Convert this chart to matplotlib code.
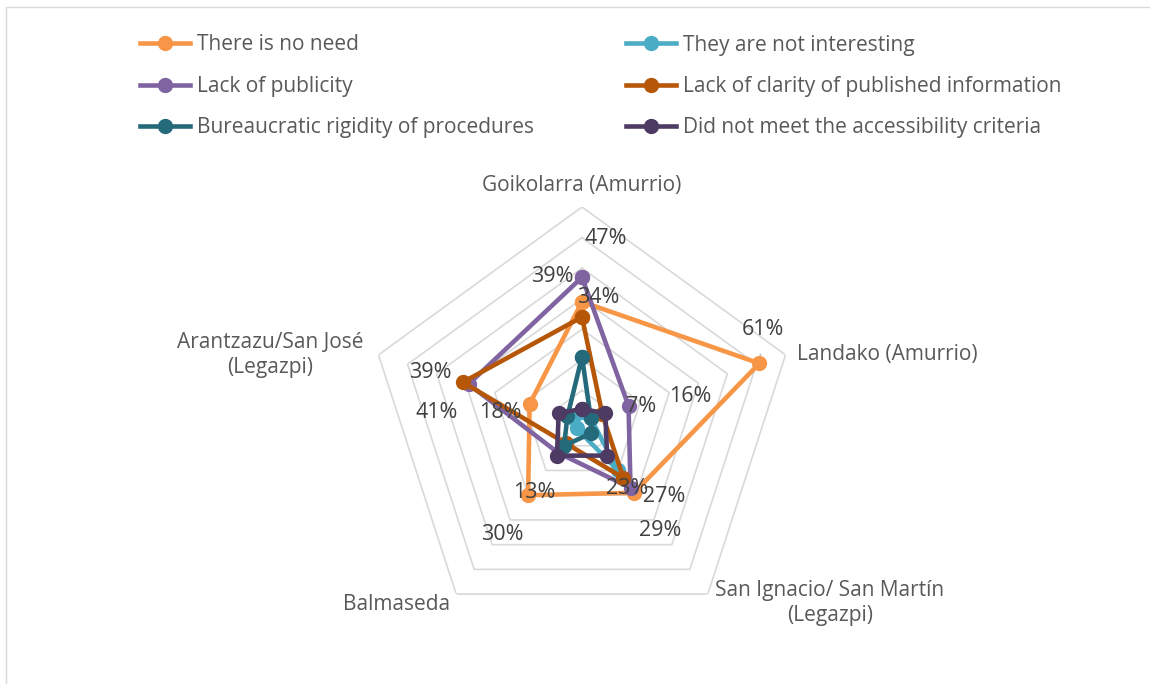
import numpy as np
import matplotlib
matplotlib.use('Agg')
import matplotlib.pyplot as plt
from matplotlib.lines import Line2D
from matplotlib.patches import Rectangle

plt.rcParams['font.family'] = ['Open Sans', 'DejaVu Sans']

# data
categories = ['Goikolarra (Amurrio)', 'Landako (Amurrio)', 'San Ignacio/ San Martín\n(Legazpi)',
              'Balmaseda', 'Arantzazu/San José\n(Legazpi)']
series_names = ['There is no need', 'They are not interesting', 'Lack of publicity',
                'Lack of clarity of published information', 'Bureaucratic rigidity of procedures',
                'Did not meet the accessibility criteria']
no_need = [39, 61, 29, 30, 18]
not_interesting = [3, 3, 20, 3, 3]
publicity = [47, 16, 27, 13, 39]
clarity = [34, 7, 23, 9, 41]
bureaucratic = [21, 3, 5, 10, 5]
accessibility = [4, 8, 14, 14, 8]
rings = [10, 20, 30, 40, 50, 60, 70]

colors = ['#F79646', '#4BACC6', '#8064A2', '#B65708', '#256A7B', '#4E3B63']
all_series = [no_need, not_interesting, publicity, clarity, bureaucratic, accessibility]

W, H = 1150, 684
fig = plt.figure(figsize=(W / 100, H / 100), dpi=100)

def px(x, y):
    return x / W, 1 - y / H

def tpx(x, y):
    # text positions, nudged for the font's vertical centring
    return px(x, y + 2)

# polar axes: centre (582, 421), radius 214 px
cx, cy, R = 582, 421, 214
ax = fig.add_axes([(cx - R) / W, (H - cy - R) / H, 2 * R / W, 2 * R / H], projection='polar')
ax.set_theta_offset(np.pi / 2)
ax.set_theta_direction(-1)
ax.set_ylim(0, 70)
ax.grid(False)
ax.set_xticks([])
ax.set_yticks([])
ax.spines['polar'].set_visible(False)
ax.patch.set_alpha(0)

theta = np.linspace(0, 2 * np.pi, len(categories), endpoint=False)
theta_c = np.append(theta, theta[0])

for r in rings:
    ax.plot(theta_c, [r] * len(theta_c), color='#D9D9D9', lw=1.2, zorder=1)

for vals, c in zip(all_series, colors):
    v = vals + vals[:1]
    ax.plot(theta_c, v, color=c, lw=3.3, marker='o', markersize=10, zorder=3, clip_on=False)

# data labels: (series, category, x px, y px)
labels = [
    (2, 0, 606, 236), (0, 0, 552, 275), (3, 0, 598, 296),
    (2, 1, 690, 395), (3, 1, 641, 405),
    (3, 2, 627, 487), (2, 2, 664, 494), (0, 2, 660, 529),
    (2, 3, 534, 490), (0, 3, 502, 532),
    (2, 4, 430, 371), (3, 4, 437, 411), (0, 4, 500, 410),
]
lfs = 15.5
for s, c, x, y in labels:
    fig.text(*tpx(x, y), f'{all_series[s][c]}%', ha='center', va='center',
             fontsize=lfs, color='#404040', zorder=5)

# 61% label with leader line
ax.annotate(f'{no_need[1]}%', xy=(theta[1], no_need[1]), xycoords='data',
            xytext=tpx(763, 328), textcoords='figure fraction',
            ha='center', va='center', fontsize=lfs, color='#404040',
            arrowprops=dict(arrowstyle='-', color='#A6A6A6', lw=1, shrinkA=8, shrinkB=6))

# category labels
fs = 15
fig.text(*tpx(582, 183), categories[0], ha='center', va='center', fontsize=fs, color='#595959')
fig.text(*tpx(797, 352), categories[1], ha='left', va='center', fontsize=fs, color='#595959')
fig.text(*tpx(830, 601), categories[2], ha='center', va='center', fontsize=fs, color='#595959',
         linespacing=1.3)
fig.text(*tpx(397, 603), categories[3], ha='center', va='center', fontsize=fs, color='#595959')
fig.text(*tpx(270, 353), categories[4], ha='center', va='center', fontsize=fs, color='#595959',
         linespacing=1.3)

# legend
for i, (name, c) in enumerate(zip(series_names, colors)):
    col, row = i % 2, i // 2
    x0 = [140, 626][col]
    y0 = 43 + row * 41.5
    fig.add_artist(Line2D([x0 / W, (x0 + 50) / W], [1 - y0 / H] * 2, color=c, lw=3.3))
    fig.add_artist(Line2D([(x0 + 25) / W], [1 - y0 / H], color=c, marker='o', markersize=10))
    fig.text(*tpx(x0 + 57, y0), name, ha='left', va='center', fontsize=fs, color='#595959')

# chart border
fig.patches.append(Rectangle((6 / W, -0.1), 2, 1.1 - 7 / H, transform=fig.transFigure,
                             fill=False, edgecolor='#D9D9D9', lw=1))

plt.savefig('out.png', dpi=100)
